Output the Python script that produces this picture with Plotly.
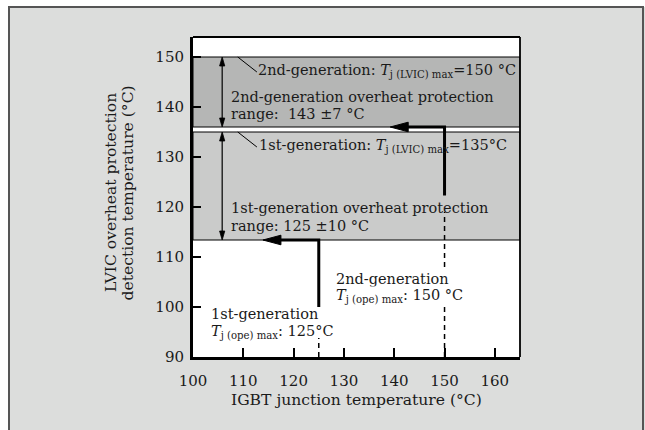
import plotly.graph_objects as go

# ---------------- data ----------------
generations = ["1st-generation", "2nd-generation"]
tj_ope_max = [125, 150]              # IGBT Tj(ope)max (x)
tj_lvic_max = [135, 150]             # top of each protection band (LVIC Tj max)
protect_low = [113.4, 136]           # bottom of each protection band as drawn
range_text = ["125 ±10 °C", "143 ±7 °C"]
lvic_text = ["135°C", "150 °C"]
ope_text = ["125°C", "150 °C"]
path_start_y = [100, 122.3]          # thick path starts here on x = Tj(ope)max
arrow_tip_x = [113.9, 139.2]         # thick path arrow tip (pointing left)
dash_top_y = [93.8, 119]             # dashed guide up from the x axis
range_arrow_x = 105.8                # double-headed range arrows
leader_x = [108.9, 112.7]            # callout leader lines (start, end)
leader_drop = 3.0

x_ticks = [100, 110, 120, 130, 140, 150, 160]
y_ticks = [90, 100, 110, 120, 130, 140, 150]
x_range = [100, 165]
y_range = [90, 154]

# ---------------- layout constants ----------------
W, H = 645, 430
ML, MR, MT, MB = 193, 125, 37, 73
PW, PH = W - ML - MR, H - MT - MB
PXX = PW / (x_range[1] - x_range[0])   # px per x unit
PXY = PH / (y_range[1] - y_range[0])   # px per y unit

FONT = "DejaVu Serif"
TXT = "#1a1a1a"
BAND_COLORS = ["#cacbca", "#b5b6b5"]
FRAME = "#dcdddc"

fig = go.Figure()

# protection bands
for i in range(2):
    fig.add_shape(type="rect", xref="x", yref="y",
                  x0=x_range[0], x1=x_range[1], y0=protect_low[i], y1=tj_lvic_max[i],
                  fillcolor=BAND_COLORS[i], line=dict(color="#000", width=1), layer="below")

# dashed guides
for i in range(2):
    fig.add_trace(go.Scatter(x=[tj_ope_max[i], tj_ope_max[i]], y=[y_range[0], dash_top_y[i]],
                             mode="lines", line=dict(color="#000", width=1.5, dash="5px,4px"),
                             hoverinfo="skip", showlegend=False))

# thick paths
for i in range(2):
    fig.add_trace(go.Scatter(x=[tj_ope_max[i], tj_ope_max[i], arrow_tip_x[i] + 10 / PXX],
                             y=[path_start_y[i], protect_low[i], protect_low[i]],
                             mode="lines", line=dict(color="#000", width=3),
                             hoverinfo="skip", showlegend=False))


def tri(tip_x, tip_y, direction, length_px, half_px):
    if direction == "left":
        return ([tip_x, tip_x + length_px / PXX, tip_x + length_px / PXX, tip_x],
                [tip_y, tip_y + half_px / PXY, tip_y - half_px / PXY, tip_y])
    if direction == "up":
        return ([tip_x, tip_x - half_px / PXX, tip_x + half_px / PXX, tip_x],
                [tip_y, tip_y - length_px / PXY, tip_y - length_px / PXY, tip_y])
    return ([tip_x, tip_x - half_px / PXX, tip_x + half_px / PXX, tip_x],
            [tip_y, tip_y + length_px / PXY, tip_y + length_px / PXY, tip_y])


# big arrowheads
for i in range(2):
    tx, ty = tri(arrow_tip_x[i], protect_low[i], "left", 18, 4.8)
    fig.add_trace(go.Scatter(x=tx, y=ty, mode="lines", fill="toself", fillcolor="#000",
                             line=dict(color="#000", width=1), hoverinfo="skip", showlegend=False))

# double-headed range arrows
for i in range(2):
    top, bot = tj_lvic_max[i], protect_low[i]
    fig.add_trace(go.Scatter(x=[range_arrow_x, range_arrow_x], y=[top - 4 / PXY, bot + 4 / PXY],
                             mode="lines", line=dict(color="#000", width=1.2),
                             hoverinfo="skip", showlegend=False))
    for tip, d in ((top, "up"), (bot, "down")):
        tx, ty = tri(range_arrow_x, tip, d, 9, 2.6)
        fig.add_trace(go.Scatter(x=tx, y=ty, mode="lines", fill="toself", fillcolor="#000",
                                 line=dict(color="#000", width=0.8), hoverinfo="skip", showlegend=False))

# leader lines
for i in range(2):
    fig.add_trace(go.Scatter(x=leader_x, y=[tj_lvic_max[i], tj_lvic_max[i] - leader_drop],
                             mode="lines", line=dict(color="#000", width=1),
                             hoverinfo="skip", showlegend=False))

ann = []
FS = 14.5


def add_text(x, y, text, bg=None):
    d = dict(x=x, y=y, xref="x", yref="y", text=text, showarrow=False,
             xanchor="left", yanchor="middle", font=dict(family=FONT, size=FS, color=TXT),
             borderpad=0)
    if bg:
        d["bgcolor"] = bg
    ann.append(d)


# LVIC max labels
lvic_pos = [(112.9, 132.2), (112.7, 147.2)]
for i in range(2):
    add_text(lvic_pos[i][0], lvic_pos[i][1],
             f"{generations[i]}: <i>T</i><sub>j (LVIC) max</sub>={lvic_text[i]}")

# range labels
range_pos = [(107.3, 119.9, 116.3), (107.3, 142.1, 138.7)]
for i in range(2):
    x, y1, y2 = range_pos[i]
    add_text(x, y1, f"{generations[i]} overheat protection")
    sep = " " if i == 0 else "&nbsp; "
    add_text(x, y2, f"range:{sep}{range_text[i]}")

# Tj(ope)max labels (2nd generation text sits over its dashed guide)
ope_pos = [(103.3, 98.7, 95.1), (128.3, 105.7, 102.2)]
for i in range(2):
    x, y1, y2 = ope_pos[i]
    bg = "#ffffff" if i == 1 else None
    add_text(x, y1, generations[i], bg=bg)
    add_text(x, y2, f"<i>T</i><sub>j (ope) max</sub>: {ope_text[i]}", bg=bg)

# axis titles
TF = 15.6
ann.append(dict(x=(111 - ML) / PW, y=(H - MB - 193) / PH, xref="paper", yref="paper",
                text="LVIC overheat protection", textangle=-90, showarrow=False,
                xanchor="center", yanchor="middle", font=dict(family=FONT, size=TF, color=TXT)))
ann.append(dict(x=(127.5 - ML) / PW, y=(H - MB - 193) / PH, xref="paper", yref="paper",
                text="detection temperature (°C)", textangle=-90, showarrow=False,
                xanchor="center", yanchor="middle", font=dict(family=FONT, size=TF, color=TXT)))
ann.append(dict(x=(356 - ML) / PW, y=(H - MB - 400) / PH, xref="paper", yref="paper",
                text="IGBT junction temperature (°C)", showarrow=False,
                xanchor="center", yanchor="middle", font=dict(family=FONT, size=TF, color=TXT)))

# outer frame: white strips outside, dark border
px2x = lambda p: (p - ML) / PW
px2y = lambda p: (H - MB - p) / PH
shapes = [
    dict(type="rect", xref="paper", yref="paper", x0=px2x(-5), x1=px2x(9), y0=px2y(440), y1=px2y(-5),
         fillcolor="#ffffff", line=dict(width=0), layer="below"),
    dict(type="rect", xref="paper", yref="paper", x0=px2x(-5), x1=px2x(650), y0=px2y(7), y1=px2y(-5),
         fillcolor="#ffffff", line=dict(width=0), layer="below"),
    dict(type="rect", xref="paper", yref="paper", x0=px2x(9), x1=px2x(643), y0=px2y(440), y1=px2y(7),
         fillcolor="rgba(0,0,0,0)", line=dict(color="#555555", width=2), layer="below"),
    # top and right plot borders (thinner)
    dict(type="line", xref="paper", yref="paper", x0=0, x1=1, y0=1, y1=1,
         line=dict(color="#000", width=1.8)),
    dict(type="line", xref="paper", yref="paper", x0=1, x1=1, y0=0, y1=1,
         line=dict(color="#000", width=1.8)),
]
for s in shapes:
    fig.add_shape(**s)

fig.update_layout(
    width=W, height=H,
    margin=dict(l=ML, r=MR, t=MT, b=MB, pad=0),
    paper_bgcolor=FRAME, plot_bgcolor="#ffffff",
    annotations=ann,
    showlegend=False,
    font=dict(family=FONT, size=15, color=TXT),
    xaxis=dict(range=x_range, tickvals=x_ticks, ticktext=[str(v) for v in x_ticks],
               ticks="inside", ticklen=9, tickwidth=2, tickcolor="#000",
               showline=True, linewidth=3, linecolor="#000", showgrid=False, zeroline=False,
               tickfont=dict(family=FONT, size=15, color=TXT), ticklabelstandoff=8),
    yaxis=dict(range=y_range, tickvals=y_ticks, ticktext=[str(v) for v in y_ticks],
               ticks="inside", ticklen=8, tickwidth=2, tickcolor="#000",
               showline=True, linewidth=3, linecolor="#000", showgrid=False, zeroline=False,
               tickfont=dict(family=FONT, size=15, color=TXT), ticklabelstandoff=3),
)

# remove the browser's default 8px page margin so the figure sits at (0, 0)
fig.write_html("out.html", config={"displayModeBar": False},
               post_script="document.body.style.margin='0';")
